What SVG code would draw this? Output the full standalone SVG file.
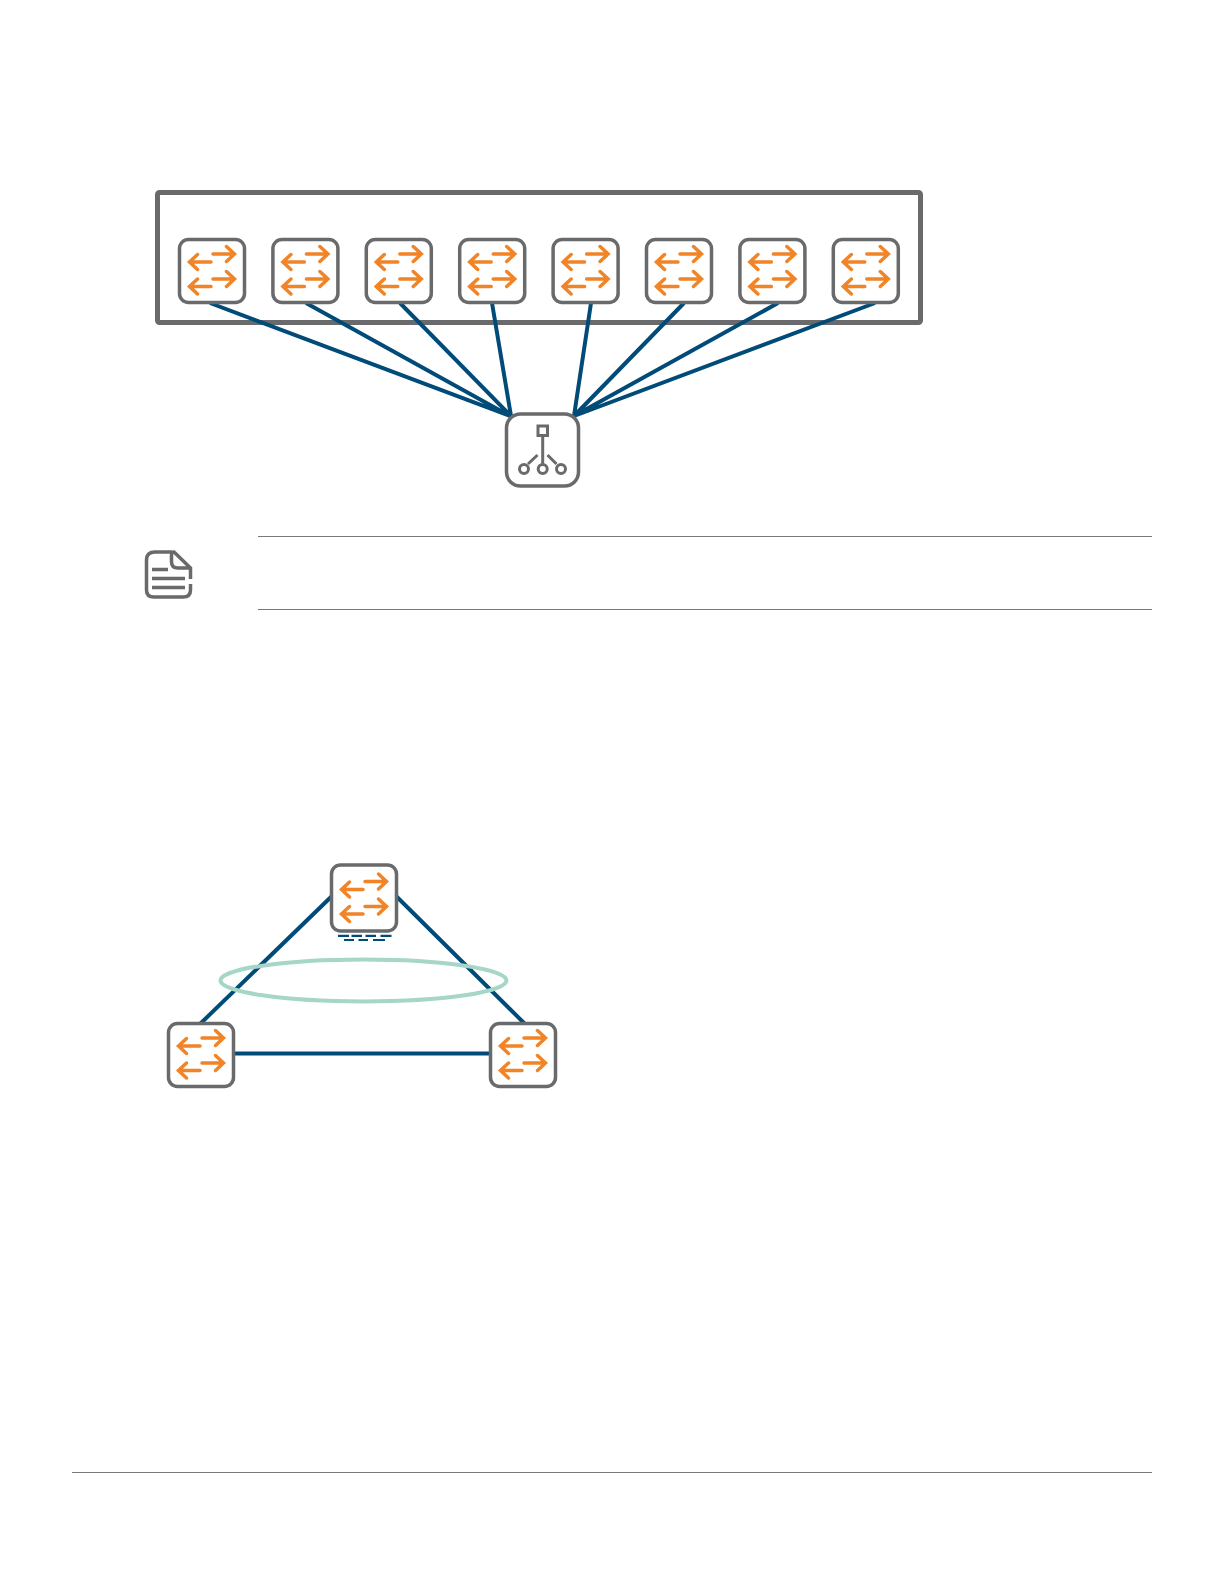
<svg xmlns="http://www.w3.org/2000/svg" width="1224" height="1584" viewBox="0 0 1224 1584">
<style>
.box{fill:#fff;stroke:#696a6c;stroke-width:3.500}
.arr{fill:none;stroke:#f08426;stroke-width:3.500;stroke-linecap:round;stroke-linejoin:miter}
.link{fill:none;stroke:#004b78;stroke-width:4}
.rule{stroke:#77787b;stroke-width:1}
.ic{fill:none;stroke:#696a6c;stroke-width:3}
.dash{fill:none;stroke:#004b78;stroke-width:2.200}
</style>
<defs>
<path id="ar" class="arr" d="M33.500 14.500H55M47 7L55 14.500L47 22M31.500 22.500H10.500M18 15L10 22.500L18 30M33.500 39.500H55M47 32L55 39.500L47 47M31.500 47H10.500M18 39.500L10 47L18 54.500"/>
<g id="sw">
<rect class="box" x="0" y="0" width="65" height="63" rx="9"/>
<use href="#ar"/>
</g>
</defs>
<rect width="1224" height="1584" fill="#fff"/>
<rect id="frame" x="157.500" y="192.500" width="763" height="130" rx="2" fill="#fff" stroke="#696a6c" stroke-width="5"/>
<g id="connectors">
<path class="link" d="M210 303L510 416M306 303L510 416M400 303L511 416M492 303L511 416M591 303L574 416M684 303L574 416M778 303L574 416M875 303L574 416"/>
<path class="link" d="M332 896L200 1024M396 896L525 1024M234 1053.500H490"/>
</g>
<g id="sw1"><use href="#sw" x="179.500" y="239.500"/></g>
<g id="sw2"><use href="#sw" x="272.900" y="239.500"/></g>
<g id="sw3"><use href="#sw" x="366.300" y="239.500"/></g>
<g id="sw4"><use href="#sw" x="459.700" y="239.500"/></g>
<g id="sw5"><use href="#sw" x="553.100" y="239.500"/></g>
<g id="sw6"><use href="#sw" x="646.500" y="239.500"/></g>
<g id="sw7"><use href="#sw" x="739.900" y="239.500"/></g>
<g id="sw8"><use href="#sw" x="833.300" y="239.500"/></g>
<g id="hub">
<rect class="box" x="506.500" y="414" width="72" height="72" rx="14"/>
<rect class="ic" x="538" y="426" width="9.500" height="9.500"/>
<path class="ic" d="M542.700 436V464M528 464L537.500 455M547.500 455L556.500 464"/>
<circle class="ic" cx="524" cy="469" r="4.500"/><circle class="ic" cx="542.700" cy="469" r="4.500"/><circle class="ic" cx="561" cy="469" r="4.500"/>
</g>
<g id="note">
<path d="M172 552H155Q146.500 552 146.500 560V590Q146.500 597 154 597H183Q190.500 597 190.500 590V584M190.500 579V568L174 552Q171.500 552 171.500 555V562Q171.500 568 178 568H190.500" fill="none" stroke="#696a6c" stroke-width="3.500"/>
<path d="M152 569.500H168M152 578.500H185M152 587.500H185" fill="none" stroke="#696a6c" stroke-width="3.500"/>
</g>
<path class="rule" d="M258 536.500H1152M258 609.500H1152M72 1472.500H1152"/>
<g id="top">
<rect class="box" x="331.500" y="865" width="65" height="66" rx="9"/>
<use href="#ar" transform="translate(331.500 867)"/>
<path class="dash" d="M338 935.800H349M351.500 935.800H362M365.500 935.800H376M380.500 935.800H391.500M344 940H354M358.500 940H368M373 940H385"/>
</g>
<g id="left"><use href="#sw" x="168.500" y="1023.500"/></g>
<g id="right"><use href="#sw" x="490.500" y="1023.500"/></g>
<ellipse id="ring" cx="363.500" cy="980.500" rx="143" ry="21" fill="none" stroke="#a5d6c8" stroke-width="4"/>
</svg>
